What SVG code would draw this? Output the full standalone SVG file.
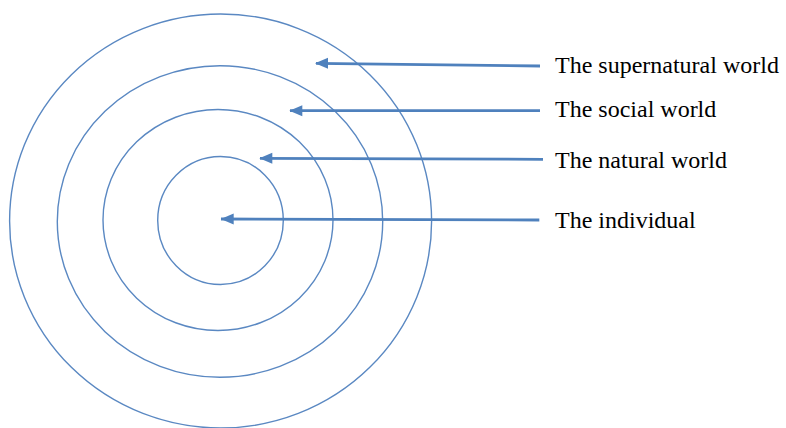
<svg xmlns="http://www.w3.org/2000/svg" width="786" height="428" viewBox="0 0 786 428">
  <style>
    .ring { fill: none; stroke: #5a88c2; stroke-width: 1.4; }
    .shaft { fill: none; stroke: #4f81bd; stroke-width: 2.8; }
    .head { fill: #4f81bd; }
    .label { font-family: "Liberation Serif", "Times New Roman", serif; font-size: 24px; fill: #000; }
  </style>
  <rect width="786" height="428" fill="#fff"/>
  <g id="ring-supernatural"><ellipse class="ring" cx="220.6" cy="221" rx="211" ry="207"/></g>
  <g id="ring-social"><ellipse class="ring" cx="220" cy="221.5" rx="162.7" ry="155.8"/></g>
  <g id="ring-natural"><ellipse class="ring" cx="218" cy="220" rx="115" ry="110.5"/></g>
  <g id="ring-individual"><ellipse class="ring" cx="220.5" cy="220.5" rx="62.8" ry="64"/></g>
  <g id="connectors">
    <path class="shaft" d="M540,66 L316,63.3"/>
    <path class="head" d="M315,63.3 L328,57.8 L328,68.8 Z"/>
    <path class="shaft" d="M540,110.7 L290,110.7"/>
    <path class="head" d="M289.3,110.7 L302.3,105.2 L302.3,116.2 Z"/>
    <path class="shaft" d="M543,159.3 L260,158.3"/>
    <path class="head" d="M259.3,158.3 L272.3,152.8 L272.3,163.8 Z"/>
    <path class="shaft" d="M539.3,220 L221,219"/>
    <path class="head" d="M220.7,219 L233.7,213.5 L233.7,224.5 Z"/>
  </g>
  <g id="label-supernatural"><text class="label" x="555" y="73.3">The supernatural world</text></g>
  <g id="label-social"><text class="label" x="555" y="117.3">The social world</text></g>
  <g id="label-natural"><text class="label" x="555" y="168.3">The natural world</text></g>
  <g id="label-individual"><text class="label" x="555" y="228.3">The individual</text></g>
</svg>
